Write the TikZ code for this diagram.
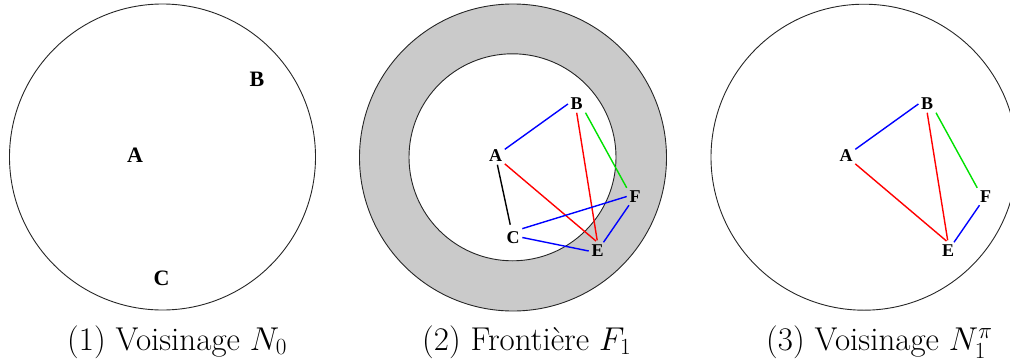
\RequirePackage{fix-cm}
\documentclass[tikz,border=0pt]{standalone}
\usepackage{fontspec}
\newfontfamily\lblfont{Liberation Serif}
\definecolor{ringgray}{RGB}{202,202,202}
\definecolor{eblue}{RGB}{0,0,255}
\definecolor{ered}{RGB}{255,0,0}
\definecolor{egreen}{RGB}{0,225,0}
\begin{document}
\begin{tikzpicture}[x=1pt,y=-1pt,
  lbl/.style={font=\lblfont\bfseries\fontsize{18}{18}\selectfont, inner sep=2.6pt},
  lblbig/.style={font=\lblfont\bfseries\fontsize{22}{22}\selectfont, inner sep=3pt},
  rim/.style={draw=black!85, line width=0.9pt},
  eb/.style={draw=eblue, line width=1.4pt},
  er/.style={draw=ered, line width=1.4pt},
  eg/.style={draw=egreen, line width=1.4pt},
  ek/.style={draw=black, line width=1.4pt},
  captext/.style={font=\fontsize{33}{38}\selectfont, anchor=base west, inner sep=0pt}]
\useasboundingbox (0,0) rectangle (1010,362);
% ---------- panel 1
\draw[rim] (162.5,157) circle[radius=153pt];
\node[lblbig] (A1) at (135,155.5) {A};
\node[lblbig] (B1) at (257,79.5) {B};
\node[lblbig] (C1) at (161.5,278) {C};
% ---------- panel 2
\fill[ringgray, even odd rule] (513,157.5) circle[radius=153.5pt] (512.5,157.3) circle[radius=103.5pt];
\draw[rim] (513,157.5) circle[radius=153.5pt];
\draw[rim] (512.5,157.3) circle[radius=103.5pt];
\node[lbl] (A2) at (495.5,156) {A};
\node[lbl] (B2) at (576.7,104) {B};
\node[lbl] (C2) at (513,237.5) {C};
\node[lbl] (E2) at (597.5,251) {E};
\node[lbl] (F2) at (635,196.5) {F};
\draw[eb] (A2) -- (B2.west);
\draw[eg] (B2.south east) -- (F2.north west);
\draw[er, shorten >=2pt] (A2) -- (E2.north);
\draw[er, shorten >=2pt] (B2.south) -- (E2.north);
\draw[ek, shorten >=4pt] (A2) -- (C2);
\draw[eb] (C2.north east) -- (F2.west);
\draw[eb] (C2.east) -- (E2.west);
\draw[eb] (E2) -- (F2);
% ---------- panel 3
\draw[rim] (864,157.2) circle[radius=153pt];
\node[lbl] (A3) at (846,156) {A};
\node[lbl] (B3) at (927.2,104) {B};
\node[lbl] (E3) at (948,251) {E};
\node[lbl] (F3) at (985.5,196.5) {F};
\draw[eb] (A3) -- (B3.west);
\draw[eg] (B3.south east) -- (F3.north west);
\draw[er, shorten >=2pt] (A3) -- (E3.north);
\draw[er, shorten >=2pt] (B3.south) -- (E3.north);
\draw[eb] (E3) -- (F3);
% ---------- captions
\node[captext] (cap1) at (67,350) {(1) Voisinage $N_0$};
\node[captext] (cap2) at (422,350) {(2) Frontière $F_1$};
\node[captext] (cap3) at (766,350) {(3) Voisinage $N_1^\pi$};
\end{tikzpicture}
\end{document}
